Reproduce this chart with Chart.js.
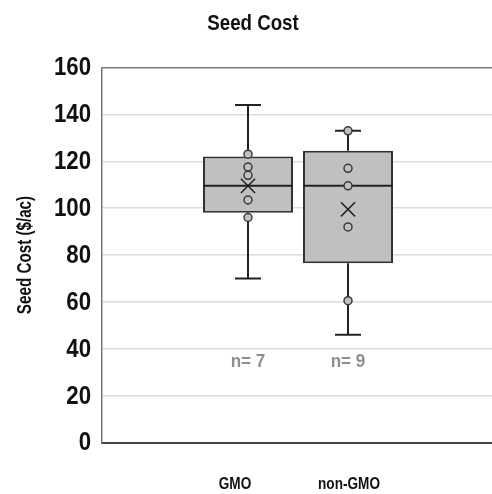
<!DOCTYPE html>
<html>
<head>
<meta charset="utf-8">
<script src="https://cdn.jsdelivr.net/npm/chart.js@4/dist/chart.umd.min.js"></script>
<style>
  html, body { margin: 0; padding: 0; background: #fff; overflow: hidden; }
  #wrap { width: 492px; height: 494px; position: relative; }
  canvas { display: block; }
</style>
</head>
<body>
<div id="wrap"><canvas id="c"></canvas></div>
<script>
// ---- data ----
const categories = ['GMO', 'non-GMO'];
const whiskerMin = [70, 46];
const q1 = [98, 76.5];
const median = [109.5, 109.5];
const q3 = [122, 124.5];
const whiskerMax = [144, 133];
const means = [109.5, 99.5];
const pointsGMO = [123, 117.5, 114, 103.5, 96];
const pointsNonGMO = [133, 117, 109.5, 92, 60.5];
const nLabels = ['n= 7', 'n= 9'];
const yTicks = [0, 20, 40, 60, 80, 100, 120, 140, 160];
const chartTitle = 'Seed Cost';
const yTitle = 'Seed Cost ($/ac)';

// ---- layout / style ----
const FONT = "'Liberation Sans', Arial, sans-serif";
const capHalf = 0.13;
const boxHalf = 0.45;
const nLabelY = 34.3;
const labelShift = [-13, 1];
const boxFill = '#c0c0c0';
const dark = '#333333';

const pointGroups = [pointsGMO, pointsNonGMO];

const datasets = [];
datasets.push({
  type: 'bar',
  data: categories.map((c, i) => ({ x: i, y: [q1[i], q3[i]] })),
  backgroundColor: boxFill,
  borderColor: dark,
  borderWidth: 2,
  borderSkipped: false,
  categoryPercentage: 1,
  barPercentage: 0.9,
  order: 10
});
const segs = [];
categories.forEach((c, i) => {
  segs.push([[i, whiskerMin[i]], [i, q1[i]]]);
  segs.push([[i, q3[i]], [i, whiskerMax[i]]]);
  segs.push([[i - capHalf, whiskerMin[i]], [i + capHalf, whiskerMin[i]]]);
  segs.push([[i - capHalf, whiskerMax[i]], [i + capHalf, whiskerMax[i]]]);
  segs.push([[i - boxHalf, median[i]], [i + boxHalf, median[i]]]);
});
segs.forEach(s => {
  datasets.push({
    type: 'line',
    data: s.map(p => ({ x: p[0], y: p[1] })),
    borderColor: '#222',
    borderWidth: 2,
    pointRadius: 0,
    fill: false,
    order: 5
  });
});
datasets.push({
  type: 'scatter',
  data: pointGroups.flatMap((arr, i) => arr.map(v => ({ x: i, y: v }))),
  pointStyle: 'circle',
  pointRadius: 4,
  backgroundColor: boxFill,
  borderColor: '#3a3a3a',
  borderWidth: 1.5,
  order: 2
});
datasets.push({
  type: 'scatter',
  data: means.map((v, i) => ({ x: i, y: v })),
  pointStyle: 'crossRot',
  pointRadius: 10,
  borderColor: '#222',
  borderWidth: 1.5,
  order: 1
});

// condensed text helper (horizontal squeeze to mimic a condensed face)
function txt(ctx, s, x, y, size, sx, color, align, rot) {
  ctx.save();
  ctx.translate(x, y);
  if (rot) ctx.rotate(rot);
  ctx.scale(sx, 1);
  ctx.font = 'bold ' + size + 'px ' + FONT;
  ctx.fillStyle = color;
  ctx.textAlign = align || 'center';
  ctx.textBaseline = 'middle';
  ctx.fillText(s, 0, 0);
  ctx.restore();
}

const labelPlugin = {
  id: 'labels',
  afterDraw(chart) {
    const ctx = chart.ctx;
    const xs = chart.scales.x, ys = chart.scales.y;
    txt(ctx, chartTitle, 253, 24, 22, 0.85, '#111');
    ys.ticks.forEach(t => {
      txt(ctx, String(t.value), 91, ys.getPixelForValue(t.value) + 1, 25, 0.89, '#111', 'right');
    });
    txt(ctx, yTitle, 25, (ys.top + ys.bottom) / 2, 20, 0.76, '#111', 'center', -Math.PI / 2);
    nLabels.forEach((t, i) => {
      txt(ctx, t, xs.getPixelForValue(i), ys.getPixelForValue(nLabelY), 19, 0.9, '#8f8f8f');
    });
    categories.forEach((t, i) => {
      txt(ctx, t, xs.getPixelForValue(i) + labelShift[i], 485, 16, 0.85, '#111');
    });
  }
};

new Chart(document.getElementById('c'), {
  data: { datasets },
  plugins: [labelPlugin],
  options: {
    responsive: true,
    maintainAspectRatio: false,
    animation: false,
    events: [],
    layout: { autoPadding: false, padding: { left: 0, right: 0, top: 67.5, bottom: 0 } },
    plugins: {
      legend: { display: false },
      tooltip: { enabled: false },
      title: { display: false }
    },
    scales: {
      x: {
        type: 'linear',
        offset: false,
        min: -1.46,
        max: 2.44,
        afterBuildTicks(s) { s.ticks = categories.map((c, i) => ({ value: i })); },
        ticks: { display: false },
        grid: { display: false, offset: false },
        border: { display: true, color: '#444', width: 2 },
        afterFit(s) { s.height = 51.5; }
      },
      y: {
        type: 'linear',
        min: 0,
        max: 160,
        afterBuildTicks(s) { s.ticks = yTicks.map(v => ({ value: v })); },
        ticks: { display: false },
        grid: {
          drawTicks: false,
          lineWidth: 1.5,
          color: c => (c.tick && c.tick.value === 160) ? '#777' : '#dddddd'
        },
        border: { display: true, color: '#777', width: 1.5 },
        title: { display: false },
        afterFit(s) { s.width = 102; }
      }
    }
  }
});
</script>
</body>
</html>
